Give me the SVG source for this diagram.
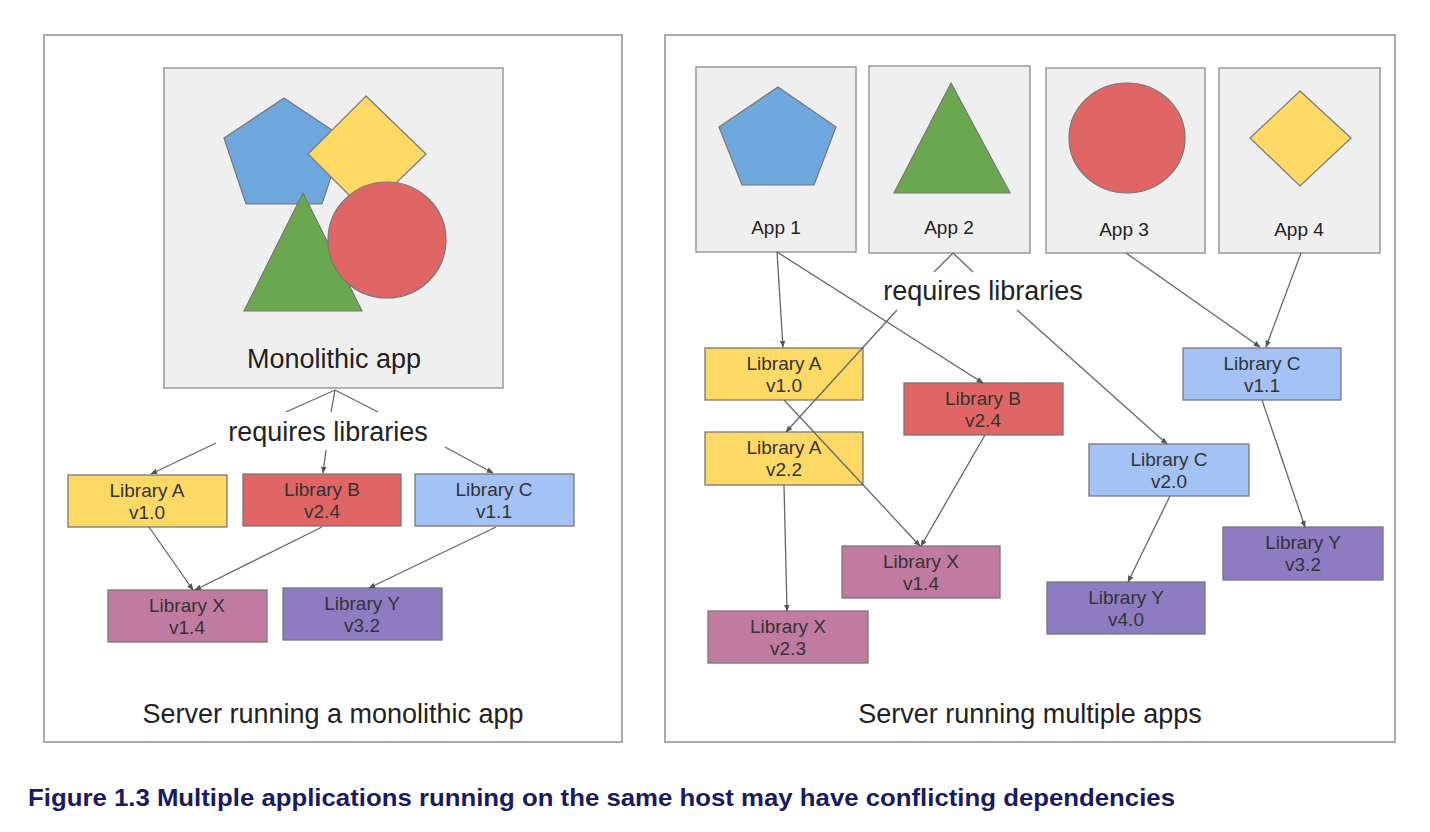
<svg xmlns="http://www.w3.org/2000/svg" width="1430" height="832" viewBox="0 0 1430 832">
<style>
.panel{fill:#fff;stroke:#aaa;stroke-width:2}
.app{fill:#efefef;stroke:#999;stroke-width:1.5}
.lib{stroke:#777;stroke-width:1.3}
.ya{fill:#ffd966}.rb{fill:#e06666}.bc{fill:#a4c2f4}.px{fill:#c27ba0}.py{fill:#8e7cc3}
.shape{stroke:#777;stroke-width:1.2}
.t{font-family:"Liberation Sans",Arial,sans-serif;fill:#222;text-anchor:middle}
.lt{font-family:"Liberation Sans",Arial,sans-serif;fill:#333;font-size:19px;text-anchor:middle}
.big{font-size:27px}
.mid{font-size:19px}
.conn line{stroke:#666;stroke-width:1.3;fill:none}
.conn .a{marker-end:url(#arr)}
</style>
<defs>
<marker id="arr" viewBox="0 0 10 10" refX="9" refY="5" markerWidth="7" markerHeight="7" markerUnits="userSpaceOnUse" orient="auto">
<path d="M0,1 L10,5 L0,9 z" fill="#555"/>
</marker>
</defs>
<rect width="1430" height="832" fill="#fff"/>

<!-- Left panel -->
<g id="panel-left">
<rect class="panel" x="44" y="35" width="578" height="707"/>
<text class="t big" x="333" y="723">Server running a monolithic app</text>
</g>
<g id="monolithic-app">
<rect class="app" x="164" y="68" width="339" height="320"/>
<polygon class="shape" fill="#6fa8dc" points="284,98 344,138 322,204 246,204 224,138"/>
<polygon class="shape" fill="#ffd966" points="366,96 426,154 366,212 308,154"/>
<polygon class="shape" fill="#6aa84f" points="303,193 362,311 244,311"/>
<ellipse class="shape" fill="#e06666" cx="387" cy="240" rx="59" ry="58"/>
<text class="t big" x="334" y="368">Monolithic app</text>
</g>
<text class="t big" x="328" y="441">requires libraries</text>
<g id="l-libA"><rect class="lib ya" x="68" y="475" width="159" height="52"/><text class="lt" x="147" y="497">Library A</text><text class="lt" x="147" y="519">v1.0</text></g>
<g id="l-libB"><rect class="lib rb" x="243" y="474" width="158" height="52"/><text class="lt" x="322" y="496">Library B</text><text class="lt" x="322" y="518">v2.4</text></g>
<g id="l-libC"><rect class="lib bc" x="415" y="474" width="159" height="52"/><text class="lt" x="494" y="496">Library C</text><text class="lt" x="494" y="518">v1.1</text></g>
<g id="l-libX"><rect class="lib px" x="108" y="590" width="159" height="52"/><text class="lt" x="187" y="612">Library X</text><text class="lt" x="187" y="634">v1.4</text></g>
<g id="l-libY"><rect class="lib py" x="283" y="588" width="159" height="52"/><text class="lt" x="362" y="610">Library Y</text><text class="lt" x="362" y="632">v3.2</text></g>

<!-- Right panel -->
<g id="panel-right">
<rect class="panel" x="665" y="35" width="730" height="707"/>
<text class="t big" x="1030" y="723">Server running multiple apps</text>
</g>
<g id="app1">
<rect class="app" x="696" y="67" width="160" height="185"/>
<polygon class="shape" fill="#6fa8dc" points="778,87 836,127 814,185 742,185 719,127"/>
<text class="t mid" x="776" y="234">App 1</text>
</g>
<g id="app2">
<rect class="app" x="869" y="66" width="161" height="187"/>
<polygon class="shape" fill="#6aa84f" points="951,83 1010,193 894,193"/>
<text class="t mid" x="949" y="234">App 2</text>
</g>
<g id="app3">
<rect class="app" x="1046" y="68" width="159" height="185"/>
<ellipse class="shape" fill="#e06666" cx="1127" cy="138" rx="58" ry="55"/>
<text class="t mid" x="1124" y="236">App 3</text>
</g>
<g id="app4">
<rect class="app" x="1219" y="68" width="161" height="185"/>
<polygon class="shape" fill="#ffd966" points="1300,91 1351,138 1300,186 1250,138"/>
<text class="t mid" x="1299" y="236">App 4</text>
</g>
<text class="t big" x="983" y="300">requires libraries</text>
<g id="r-libA1"><rect class="lib ya" x="705" y="348" width="158" height="52"/><text class="lt" x="784" y="370">Library A</text><text class="lt" x="784" y="392">v1.0</text></g>
<g id="r-libB"><rect class="lib rb" x="904" y="383" width="159" height="52"/><text class="lt" x="983" y="405">Library B</text><text class="lt" x="983" y="427">v2.4</text></g>
<g id="r-libC1"><rect class="lib bc" x="1183" y="348" width="158" height="52"/><text class="lt" x="1262" y="370">Library C</text><text class="lt" x="1262" y="392">v1.1</text></g>
<g id="r-libA2"><rect class="lib ya" x="705" y="432" width="158" height="53"/><text class="lt" x="784" y="454">Library A</text><text class="lt" x="784" y="476">v2.2</text></g>
<g id="r-libC2"><rect class="lib bc" x="1089" y="444" width="160" height="52"/><text class="lt" x="1169" y="466">Library C</text><text class="lt" x="1169" y="488">v2.0</text></g>
<g id="r-libX1"><rect class="lib px" x="842" y="546" width="158" height="52"/><text class="lt" x="921" y="568">Library X</text><text class="lt" x="921" y="590">v1.4</text></g>
<g id="r-libY1"><rect class="lib py" x="1223" y="527" width="160" height="53"/><text class="lt" x="1303" y="549">Library Y</text><text class="lt" x="1303" y="571">v3.2</text></g>
<g id="r-libY2"><rect class="lib py" x="1047" y="582" width="158" height="52"/><text class="lt" x="1126" y="604">Library Y</text><text class="lt" x="1126" y="626">v4.0</text></g>
<g id="r-libX2"><rect class="lib px" x="708" y="611" width="160" height="52"/><text class="lt" x="788" y="633">Library X</text><text class="lt" x="788" y="655">v2.3</text></g>

<g id="connectors" class="conn">
<line x1="335" y1="390" x2="286" y2="412"/>
<line x1="335" y1="390" x2="331" y2="412"/>
<line x1="335" y1="390" x2="378" y2="412"/>
<line class="a" x1="216" y1="443" x2="151" y2="474"/>
<line class="a" x1="326" y1="450" x2="323" y2="473"/>
<line class="a" x1="445" y1="447" x2="493" y2="473"/>
<line class="a" x1="149" y1="527" x2="193" y2="590"/>
<line class="a" x1="322" y1="527" x2="195" y2="590"/>
<line class="a" x1="496" y1="527" x2="369" y2="588"/>

<line x1="953" y1="253" x2="934" y2="272"/>
<line x1="953" y1="253" x2="973" y2="272"/>
<line class="a" x1="777" y1="252" x2="783" y2="347"/>
<line class="a" x1="777" y1="252" x2="983" y2="383"/>
<line class="a" x1="897" y1="310" x2="786" y2="432"/>
<line class="a" x1="1017" y1="310" x2="1167" y2="444"/>
<line class="a" x1="1126" y1="253" x2="1260" y2="347"/>
<line class="a" x1="1301" y1="253" x2="1266" y2="347"/>
<line class="a" x1="784" y1="400" x2="920" y2="546"/>
<line class="a" x1="985" y1="435" x2="921" y2="546"/>
<line class="a" x1="784" y1="485" x2="787" y2="611"/>
<line class="a" x1="1170" y1="496" x2="1128" y2="582"/>
<line class="a" x1="1262" y1="400" x2="1305" y2="527"/>
</g>

<text x="28" y="806" font-family="'Liberation Sans',Arial,sans-serif" font-weight="bold" font-size="24" fill="#1b1a5e" textLength="1147" lengthAdjust="spacingAndGlyphs">Figure 1.3 Multiple applications running on the same host may have conflicting dependencies</text>
</svg>
